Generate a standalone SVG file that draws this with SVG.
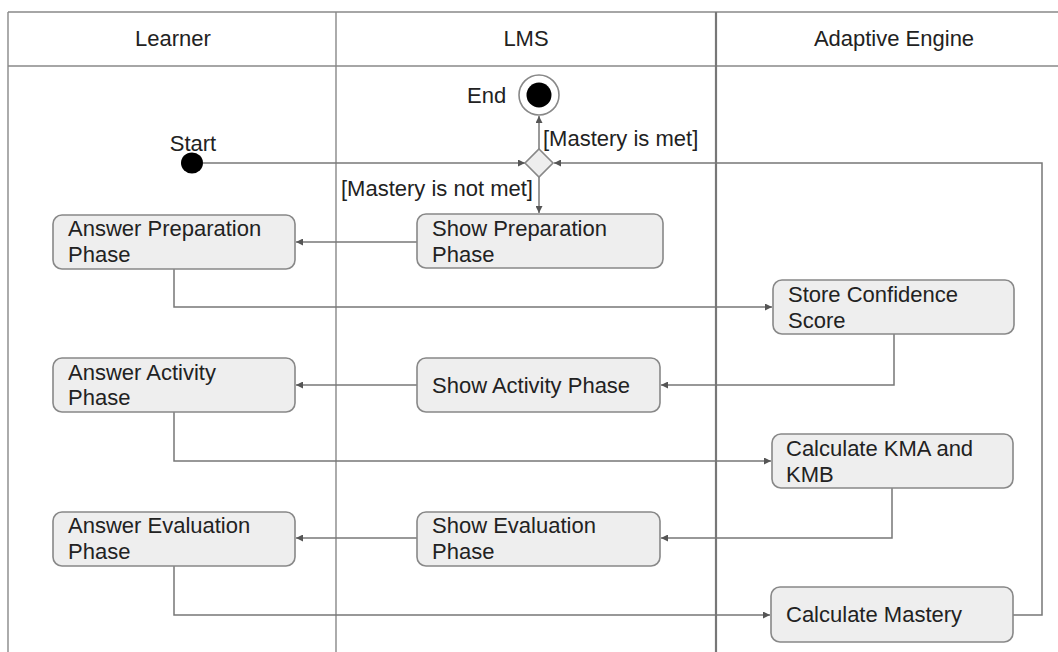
<svg xmlns="http://www.w3.org/2000/svg" width="1058" height="652" viewBox="0 0 1058 652">
<style>
text{font-family:"Liberation Sans",Arial,sans-serif;font-size:22px;fill:#222}
.hd{text-anchor:middle}
.box{fill:#eeeeee;stroke:#888;stroke-width:1.6}
.lane{stroke:#888;stroke-width:1.4;fill:none}
.lane2{stroke:#777;stroke-width:2.2;fill:none}
.c{stroke:#777;stroke-width:1.5;fill:none;marker-end:url(#ah)}
</style>
<defs>
<marker id="ah" viewBox="0 0 10 10" refX="10" refY="5" markerWidth="9" markerHeight="7" markerUnits="userSpaceOnUse" orient="auto">
<path d="M0,0 L10,5 L0,10 z" fill="#555"/>
</marker>
</defs>
<rect width="1058" height="652" fill="#fff"/>
<g id="lanes">
<line class="lane" x1="8" y1="12" x2="1058" y2="12"/>
<line class="lane" x1="8" y1="66" x2="1058" y2="66"/>
<line class="lane" x1="8" y1="12" x2="8" y2="652"/>
<line class="lane" x1="336" y1="12" x2="336" y2="652"/>
<line class="lane2" x1="716" y1="12" x2="716" y2="652"/>
<text class="hd" x="173" y="46">Learner</text>
<text class="hd" x="526" y="46">LMS</text>
<text class="hd" x="894" y="46">Adaptive Engine</text>
</g>
<g id="connectors">
<path class="c" d="M203,163 L525,163"/>
<path class="c" d="M539,149 L539,116"/>
<path class="c" d="M539,177 L539,213"/>
<path class="c" d="M417,242 L296,242"/>
<path class="c" d="M174,269 L174,307 L772,307"/>
<path class="c" d="M894,334 L894,385 L661,385"/>
<path class="c" d="M417,385 L296,385"/>
<path class="c" d="M174,412 L174,461 L771,461"/>
<path class="c" d="M892,488 L892,538 L661,538"/>
<path class="c" d="M417,538 L296,538"/>
<path class="c" d="M174,566 L174,615 L770,615"/>
<path class="c" d="M1013,615 L1042,615 L1042,163 L554,163"/>
<text x="543" y="146">[Mastery is met]</text>
<text x="341" y="196">[Mastery is not met]</text>
</g>
<g id="start">
<ellipse cx="192" cy="163" rx="11" ry="10.5" fill="#000"/>
<text class="hd" x="193" y="151">Start</text>
</g>
<g id="end">
<circle cx="539" cy="95" r="20" fill="#fff" stroke="#888" stroke-width="1.6"/>
<circle cx="539" cy="95" r="12.5" fill="#000"/>
<text x="467" y="103">End</text>
</g>
<g id="decision">
<path d="M539,149 L553,163 L539,177 L525,163 Z" fill="#eeeeee" stroke="#888" stroke-width="1.6"/>
</g>
<g id="answer-preparation">
<rect class="box" x="53" y="215" width="242" height="54" rx="9"/>
<text x="68" y="236">Answer Preparation</text>
<text x="68" y="262">Phase</text>
</g>
<g id="show-preparation">
<rect class="box" x="417" y="214" width="246" height="54" rx="9"/>
<text x="432" y="236">Show Preparation</text>
<text x="432" y="262">Phase</text>
</g>
<g id="store-confidence">
<rect class="box" x="773" y="280" width="241" height="54" rx="9"/>
<text x="788" y="302">Store Confidence</text>
<text x="788" y="328">Score</text>
</g>
<g id="answer-activity">
<rect class="box" x="53" y="358" width="242" height="54" rx="9"/>
<text x="68" y="380">Answer Activity</text>
<text x="68" y="405">Phase</text>
</g>
<g id="show-activity">
<rect class="box" x="417" y="358" width="243" height="54" rx="9"/>
<text x="432" y="393">Show Activity Phase</text>
</g>
<g id="calculate-kma">
<rect class="box" x="772" y="434" width="241" height="54" rx="9"/>
<text x="786" y="456">Calculate KMA and</text>
<text x="786" y="482">KMB</text>
</g>
<g id="answer-evaluation">
<rect class="box" x="53" y="512" width="242" height="54" rx="9"/>
<text x="68" y="533">Answer Evaluation</text>
<text x="68" y="559">Phase</text>
</g>
<g id="show-evaluation">
<rect class="box" x="417" y="512" width="243" height="54" rx="9"/>
<text x="432" y="533">Show Evaluation</text>
<text x="432" y="559">Phase</text>
</g>
<g id="calculate-mastery">
<rect class="box" x="771" y="587" width="242" height="55" rx="9"/>
<text x="786" y="622">Calculate Mastery</text>
</g>
</svg>
